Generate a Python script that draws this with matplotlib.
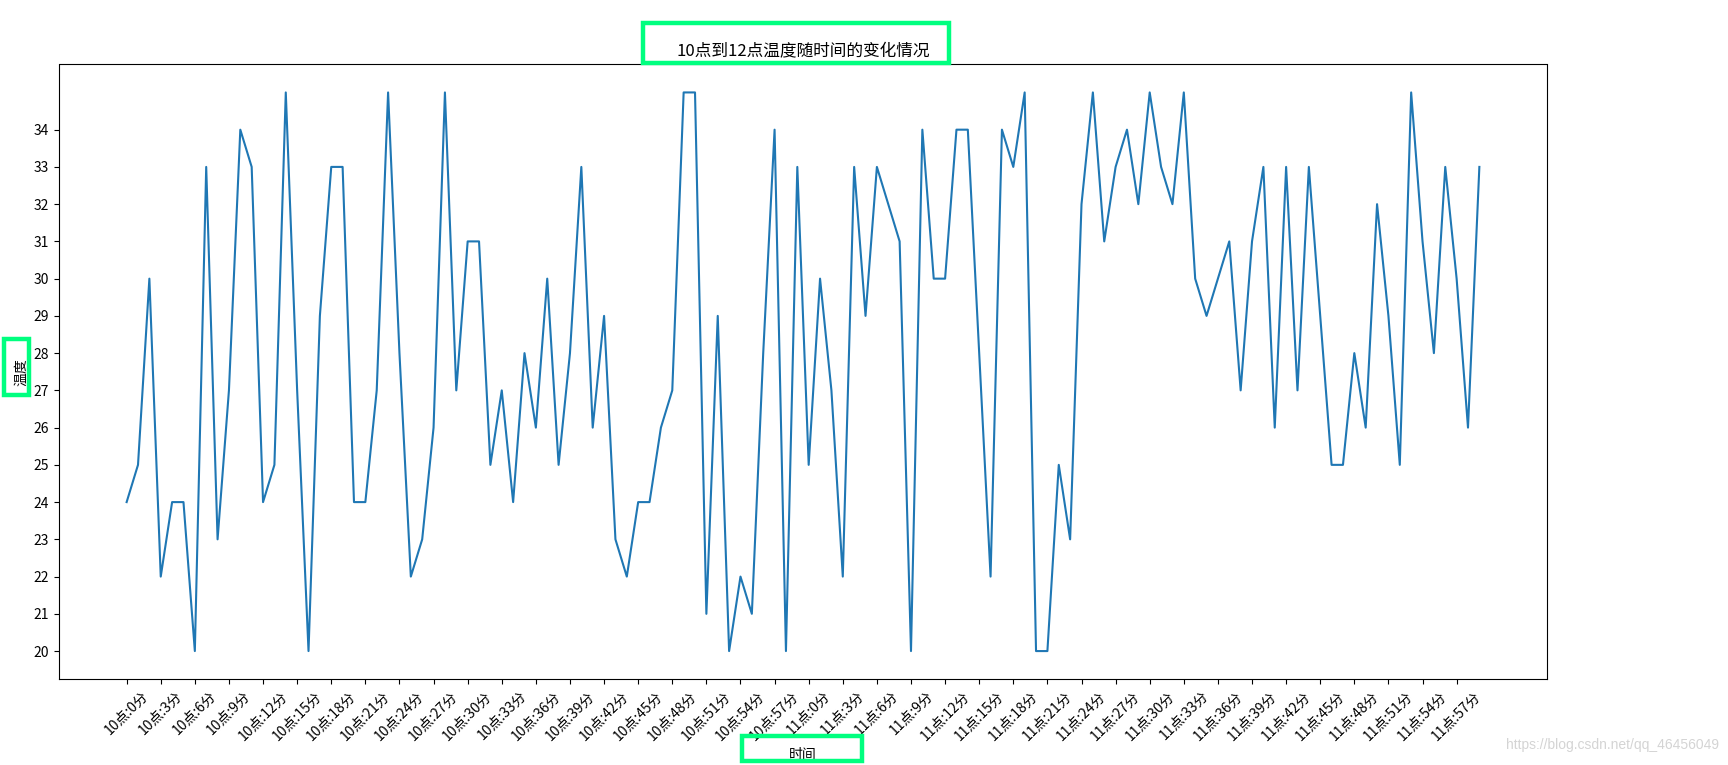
import matplotlib
matplotlib.use("Agg")
import matplotlib.pyplot as plt
from matplotlib.patches import Rectangle

plt.rcParams['font.family'] = ['Noto Sans CJK SC', 'DejaVu Sans']
plt.rcParams['axes.unicode_minus'] = False

# 10:00 - 11:59, one reading per minute
temps = [24, 25, 30, 22, 24, 24, 20, 33, 23, 27, 34, 33, 24, 25, 35, 27, 20, 29, 33, 33,
         24, 24, 27, 35, 28, 22, 23, 26, 35, 27, 31, 31, 25, 27, 24, 28, 26, 30, 25, 28,
         33, 26, 29, 23, 22, 24, 24, 26, 27, 35, 35, 21, 29, 20, 22, 21, 28, 34, 20, 33,
         25, 30, 27, 22, 33, 29, 33, 32, 31, 20, 34, 30, 30, 34, 34, 28, 22, 34, 33, 35,
         20, 20, 25, 23, 32, 35, 31, 33, 34, 32, 35, 33, 32, 35, 30, 29, 30, 31, 27, 31,
         33, 26, 33, 27, 33, 29, 25, 25, 28, 26, 32, 29, 25, 35, 31, 28, 33, 30, 26, 33]
minutes = list(range(len(temps)))
time_labels = ["10点:{}分".format(i) for i in range(60)] + ["11点:{}分".format(i) for i in range(60)]
y_ticks = list(range(20, 35))

W, H = 1728, 765
fig = plt.figure(figsize=(W / 100, H / 100), dpi=100)
ax = fig.add_axes([59 / W, 1 - 679 / H, (1547 - 59) / W, (679 - 64.5) / H])

ax.plot(minutes, temps, color='#1f77b4', linewidth=1.5)
ax.set_xticks(minutes[::3])
ax.set_xticklabels(time_labels[::3], rotation=45)
ax.set_yticks(y_ticks)
ax.set_xlabel("时间")
ax.set_ylabel("温度")
ax.set_title("10点到12点温度随时间的变化情况")


# green highlight boxes from the screenshot
def box(x0, y0, x1, y1):
    fig.patches.append(Rectangle((x0 / W, 1 - y1 / H), (x1 - x0) / W, (y1 - y0) / H,
                                 transform=fig.transFigure, fill=False,
                                 edgecolor='#00ff7f', linewidth=3.2))


box(643, 23, 949, 63)
box(4, 339, 29, 395)
box(742, 736, 862, 761)

fig.text(0.995, 1 - 745 / H, "https://blog.csdn.net/qq_46456049", ha='right', va='center',
         fontsize=10, color='#d4d4d4', family=['Liberation Sans', 'DejaVu Sans'])

fig.savefig("out.png", dpi=100)
